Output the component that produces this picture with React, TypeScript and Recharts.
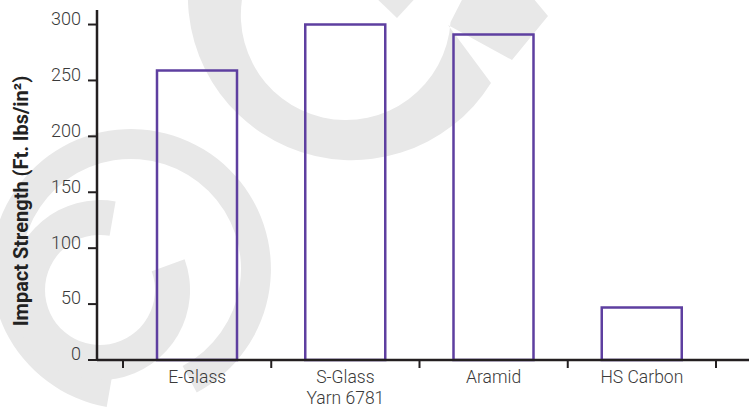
import React from "react";
import { BarChart, Bar, XAxis, YAxis } from "recharts";

// chart data
const categories = ["E-Glass", "S-Glass\nYarn 6781", "Aramid", "HS Carbon"];
const impactValues = [259, 300, 291, 47];
const yTicks = [0, 50, 100, 150, 200, 250, 300];
const yLabel = "Impact Strength (Ft. lbs/in²)";

const data = categories.map((material, i) => ({
  material,
  impact: impactValues[i],
}));

const PURPLE = "#5E3FA0";
const AXIS = "#231F20";
const TEXT = "#3A3A3A";
const WATERMARK = "#E8E8E8";
const FONT = "Roboto, 'Liberation Sans', sans-serif";

// category tick: label below, tick marks at the band edges
const XTick = (props: any) => {
  const { x, y, payload, index } = props;
  const half = payload.offset ?? 74;
  const lines = String(payload.value).split("\n");
  const isLast = index === categories.length - 1;
  return (
    <g>
      <line x1={x - half} x2={x - half} y1={y} y2={y + 8} stroke={AXIS} strokeWidth={2} />
      {isLast && (
        <line x1={x + half} x2={x + half} y1={y} y2={y + 8} stroke={AXIS} strokeWidth={2} />
      )}
      <text x={x} y={y + 23} textAnchor="middle" fill={TEXT} fontSize={17.5} fontWeight={300} fontFamily={FONT}>
        {lines.map((l, i) => (
          <tspan key={i} x={x} dy={i === 0 ? 0 : 21}>
            {l}
          </tspan>
        ))}
      </text>
    </g>
  );
};

const YLabel = (props: any) => {
  const vb = props.viewBox || { y: 10, height: 350 };
  const cx = 21;
  const cy = vb.y + vb.height / 2 + 16;
  return (
    <text
      x={cx}
      y={cy}
      transform={`rotate(-90 ${cx} ${cy})`}
      textAnchor="middle"
      dominantBaseline="central"
      fill="#222"
      fontSize={20}
      fontWeight={700}
      fontFamily={FONT}
    >
      {yLabel}
    </text>
  );
};

// faint logo watermark behind the chart
const Watermark = () => (
  <svg width={749} height={409} style={{ position: "absolute", left: 0, top: 0 }}>
    {/* lower mark: outer ring with a gap at the bottom */}
    <path
      d="M 106.7 406.9 A 140 140 0 1 1 196.7 392.6 L 182.6 366.1 A 110 110 0 1 0 111.9 377.3 Z"
      fill={WATERMARK}
    />
    {/* lower mark: inner C */}
    <path
      d="M 115.6 201.4 A 90 90 0 1 0 184.6 259.2 L 151.7 271.2 A 55 55 0 1 1 109.6 235.8 Z"
      fill={WATERMARK}
    />
    {/* upper mark */}
    <path
      d="M 192.9 -44.1 A 164 164 0 0 0 491 83 L 448 25 L 512 60 L 548 16 L 528 -8 L 466 -8 L 450.6 22 A 105 105 0 1 1 248.3 -23.9 Z"
      fill={WATERMARK}
    />
    <path d="M 370 -8 L 421 -8 L 397 18 Z" fill={WATERMARK} />
  </svg>
);

export default function App() {
  return (
    <div style={{ position: "absolute", left: 0, top: 0, width: 749, height: 409, background: "#fff" }}>
      <Watermark />
      <div style={{ position: "absolute", left: 0, top: 0 }}>
        <BarChart width={749} height={409} data={data} margin={{ top: 10, right: 0, bottom: 0, left: 0 }}>
          <XAxis
            dataKey="material"
            padding={{ left: 26, right: 33 }}
            height={49}
            tickSize={0}
            tickMargin={0}
            tickLine={false}
            axisLine={{ stroke: AXIS, strokeWidth: 2.5 }}
            tick={<XTick />}
            interval={0}
          />
          <YAxis
            type="number"
            domain={[0, 313]}
            ticks={yTicks}
            interval={0}
            width={97}
            tickSize={9}
            tickMargin={7}
            axisLine={{ stroke: AXIS, strokeWidth: 2.5 }}
            tickLine={{ stroke: AXIS, strokeWidth: 2 }}
            tick={{ fill: TEXT, fontSize: 18, fontWeight: 300, fontFamily: FONT, dy: -6 }}
            label={{ content: <YLabel /> }}
          />
          <Bar
            dataKey="impact"
            fill="none"
            stroke={PURPLE}
            strokeWidth={2.5}
            barSize={80}
            isAnimationActive={false}
          />
        </BarChart>
      </div>
    </div>
  );
}
